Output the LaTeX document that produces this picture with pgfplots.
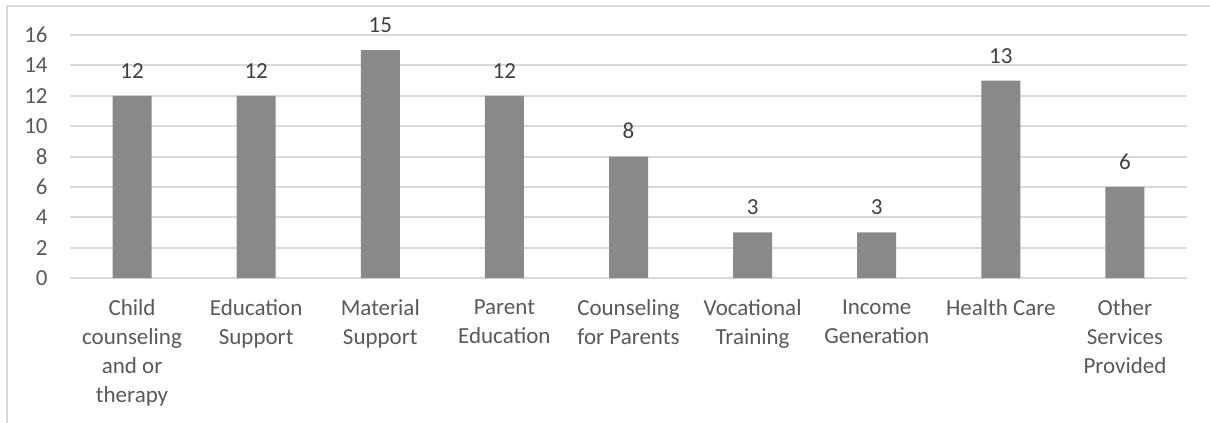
\documentclass[border=0pt]{standalone}
\usepackage{pgfplots}
\pgfplotsset{compat=1.18}
\usepackage{fontspec}
\setmainfont{Carlito}
\definecolor{bargray}{HTML}{898989}
\definecolor{gridgray}{HTML}{D9D9D9}
\definecolor{txtgray}{HTML}{595959}
\definecolor{lblgray}{HTML}{404040}
\begin{document}
\begin{tikzpicture}
\clip (0,0) rectangle (605bp,-211.5bp);
\draw[gridgray, line width=1bp] (3.5bp,-250bp) -- (3.5bp,-3bp) -- (700bp,-3bp);
\begin{axis}[
  at={(35bp,-139bp)}, anchor=south west,
  scale only axis,
  width=558.5bp, height=121.5bp,
  xmin=-0.5, xmax=8.5, ymin=0, ymax=16,
  /pgf/number format/assume math mode=true,
  axis line style={draw=none},
  ytick={0,2,...,16},
  xtick=data,
  xticklabels={{Child\\counseling\\and or\\therapy},{Education\\Support},{Material\\Support},{Parent\\Education},{Counseling\\for Parents},{Vocational\\Training},{Income\\Generation},{Health Care},{Other\\Services\\Provided}},
  major tick length=0pt,
  ymajorgrids, grid style={gridgray, line width=1bp},
  yticklabel style={inner sep=0pt, anchor=east, xshift=-11bp, font=\fontsize{11.5bp}{14.5bp}\selectfont, text=txtgray},
  xticklabel style={inner sep=0pt, anchor=north, yshift=-10.5bp, align=center, font=\fontsize{11.5bp}{14.5bp}\selectfont, text=txtgray},
  ybar, bar width=19.5bp,
  nodes near coords,
  nodes near coords style={anchor=south, inner sep=0pt, yshift=8.5bp, font=\fontsize{11.5bp}{14.5bp}\selectfont, text=lblgray},
]
\addplot[fill=bargray, draw=none] coordinates {(0,12) (1,12) (2,15) (3,12) (4,8) (5,3) (6,3) (7,13) (8,6)};
\end{axis}
\end{tikzpicture}
\end{document}
